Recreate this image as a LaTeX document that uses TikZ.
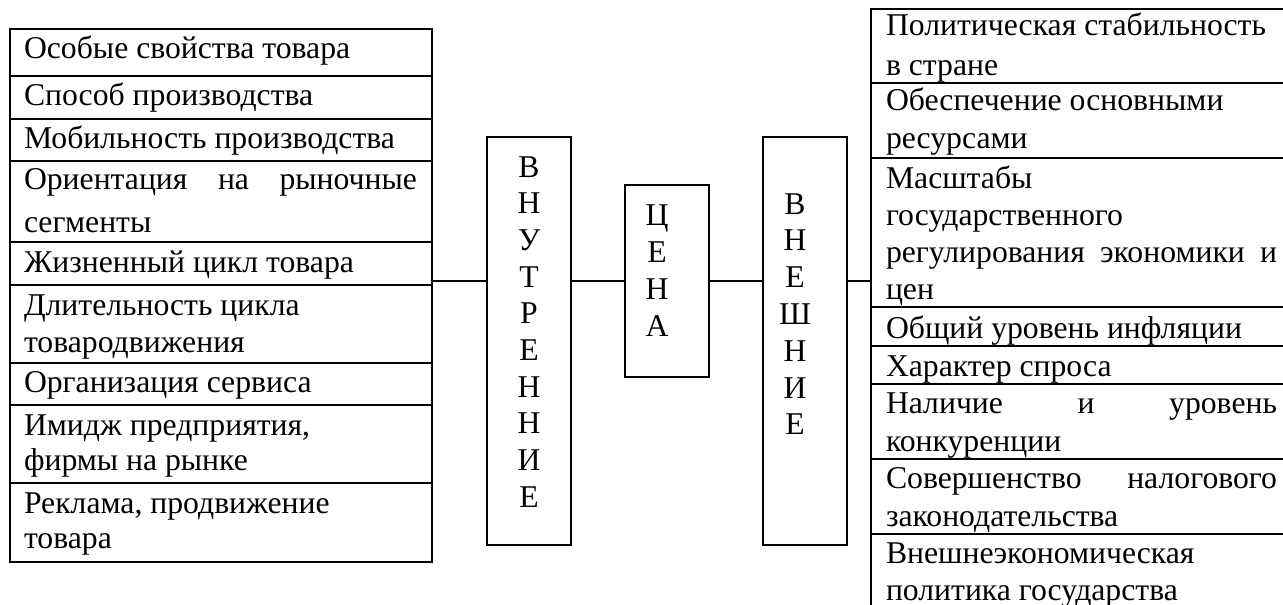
\documentclass[tikz,border=0pt]{standalone}
\usepackage{fontspec}
\setmainfont{Liberation Serif}
% paragraph set top-aligned on its first baseline: width, line spacing, text
\newcommand\cellpar[3]{\parbox[t]{#1}{\fontsize{31.7}{#2}\selectfont\raggedright #3}}
% a line stretched to the full measure (justified line)
\newcommand\spreadline[1]{\makebox[\linewidth][s]{#1}}
% vertical stack of letters
\newcommand\letterstack[2]{\parbox[t]{40pt}{\centering\fontsize{31.7}{#1}\selectfont #2}}
\begin{document}
\begin{tikzpicture}[x=1pt,y=-1pt,
  rowbox/.style={draw, line width=1.4pt, inner sep=0pt, outer sep=0pt, anchor=north west, minimum width=#1},
  rowbox/.default=422pt,
  cell/.style={anchor=base west, inner sep=0pt, outer sep=0pt},
  tallbox/.style={draw, line width=1.2pt, inner sep=0pt, outer sep=0pt, anchor=north west, minimum width=84pt},
  letters/.style={anchor=base, inner sep=0pt, outer sep=0pt},
  link/.style={line width=1.3pt}]
\useasboundingbox (0,0) rectangle (1283,605);
\clip (0,0) rectangle (1283,605);
\fill[white] (0,0) rectangle (1283,605);

% ---- internal factors (left column)
\node[rowbox, minimum height=47pt] (L1) at (10,29)  {};
\node[rowbox, minimum height=43pt] (L2) at (10,76)  {};
\node[rowbox, minimum height=42pt] (L3) at (10,119) {};
\node[rowbox, minimum height=81pt] (L4) at (10,161) {};
\node[rowbox, minimum height=43pt] (L5) at (10,242) {};
\node[rowbox, minimum height=78pt] (L6) at (10,285) {};
\node[rowbox, minimum height=42pt] (L7) at (10,363) {};
\node[rowbox, minimum height=78pt] (L8) at (10,405) {};
\node[rowbox, minimum height=79pt] (L9) at (10,483) {};

\node[cell] (tL1) at (24,58)  {\cellpar{393pt}{38pt}{Особые свойства товара}};
\node[cell] (tL2) at (24,105) {\cellpar{393pt}{38pt}{Способ производства}};
\node[cell] (tL3) at (24,148) {\cellpar{393pt}{38pt}{Мобильность производства}};
\node[cell] (tL4) at (24,189) {\cellpar{393pt}{43pt}{\spreadline{Ориентация на рыночные}\\сегменты}};
\node[cell] (tL5) at (24,272) {\cellpar{393pt}{38pt}{Жизненный цикл товара}};
\node[cell] (tL6) at (24,315) {\cellpar{393pt}{37pt}{Длительность цикла\\товародвижения}};
\node[cell] (tL7) at (24,392) {\cellpar{393pt}{38pt}{Организация сервиса}};
\node[cell] (tL8) at (24,435) {\cellpar{393pt}{35pt}{Имидж предприятия,\\фирмы на рынке}};
\node[cell] (tL9) at (24,513) {\cellpar{393pt}{35pt}{Реклама, продвижение\\товара}};

% ---- central blocks
\node[tallbox, minimum height=408pt] (vin)   at (487,137) {};
\node[tallbox, minimum height=192pt] (price) at (625,185) {};
\node[tallbox, minimum height=408pt] (vex)   at (763,137) {};

\node[letters] (vinT)   at (529,177) {\letterstack{36.7pt}{В\\Н\\У\\Т\\Р\\Е\\Н\\Н\\И\\Е}};
\node[letters] (priceT) at (657,225) {\letterstack{37.3pt}{Ц\\Е\\Н\\А}};
\node[letters] (vexT)   at (795,214) {\letterstack{36.8pt}{В\\Н\\Е\\Ш\\Н\\И\\Е}};

% ---- external factors (right column)
\node[rowbox=429pt, minimum height=74pt]  (R1) at (871,9)   {};
\node[rowbox=429pt, minimum height=75pt]  (R2) at (871,83)  {};
\node[rowbox=429pt, minimum height=149pt] (R3) at (871,158) {};
\node[rowbox=429pt, minimum height=39pt]  (R4) at (871,307) {};
\node[rowbox=429pt, minimum height=38pt]  (R5) at (871,346) {};
\node[rowbox=429pt, minimum height=75pt]  (R6) at (871,384) {};
\node[rowbox=429pt, minimum height=75pt]  (R7) at (871,459) {};
\node[rowbox=429pt, minimum height=86pt]  (R8) at (871,534) {};

\node[cell] (tR1) at (886,35)  {\cellpar{391pt}{40pt}{Политическая стабильность\\в стране}};
\node[cell] (tR2) at (886,110) {\cellpar{391pt}{38pt}{Обеспечение основными\\ресурсами}};
\node[cell] (tR3) at (886,188) {\cellpar{391pt}{37.3pt}{Масштабы\\государственного\\\spreadline{регулирования экономики и}\\цен}};
\node[cell] (tR4) at (886,338) {\cellpar{391pt}{38pt}{Общий уровень инфляции}};
\node[cell] (tR5) at (886,376) {\cellpar{391pt}{38pt}{Характер спроса}};
\node[cell] (tR6) at (886,413) {\cellpar{391pt}{38pt}{\spreadline{Наличие и уровень}\\конкуренции}};
\node[cell] (tR7) at (886,488) {\cellpar{391pt}{38pt}{\spreadline{Совершенство налогового}\\законодательства}};
\node[cell] (tR8) at (886,563) {\cellpar{391pt}{37pt}{Внешнеэкономическая\\политика государства}};

% ---- connectors along the axis of the price block
\draw[link] (L5.east |- price.west) -- (vin.west |- price.west);
\draw[link] (vin.east |- price.west) -- (price.west);
\draw[link] (price.east) -- (vex.west |- price.east);
\draw[link] (vex.east |- price.east) -- (R3.west |- price.east);
\end{tikzpicture}
\end{document}
